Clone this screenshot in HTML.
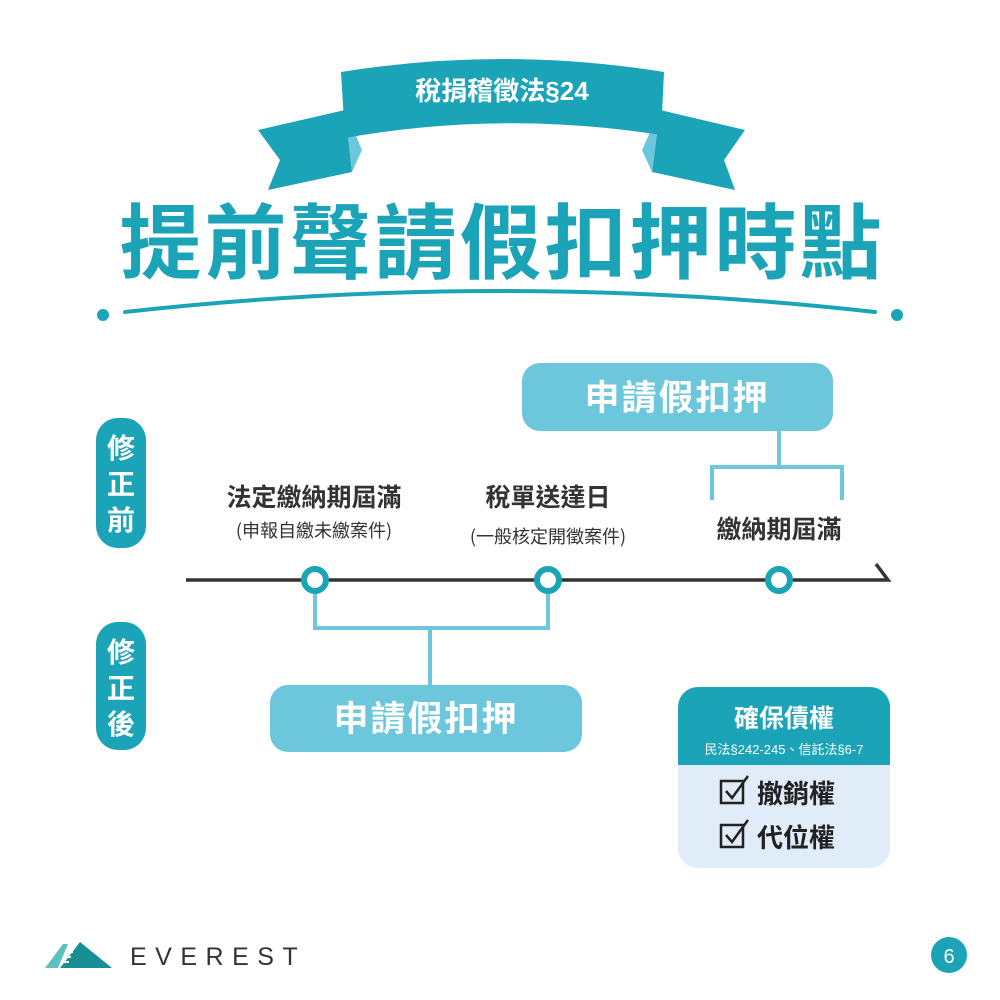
<!DOCTYPE html>
<html><head><meta charset="utf-8"><style>
body{margin:0;width:1000px;height:1000px;background:#fff;overflow:hidden;font-family:"Liberation Sans","Noto Sans CJK TC",sans-serif}
.a{position:absolute}
</style></head><body>
<div class="a" style="left:0;top:0;width:1000px;height:1000px">
<svg width="1000" height="1000" style="position:absolute;left:0;top:0">
<polygon points="345,110 258,130 280,160 268,190 352,172" fill="#1ba3b8"/>
<polygon points="660,110 745,130 724,160 735,190 652,172" fill="#1ba3b8"/>
<polygon points="345,110 352,172 362,150" fill="#6cc6dc"/>
<polygon points="660,110 652,172 642,150" fill="#6cc6dc"/>
<path d="M341,72 Q502,46 664,72 L661,135 Q502,110 345,138 Z" fill="#1ba3b8"/>
<text x="502" y="100" text-anchor="middle" font-size="26" font-weight="bold" fill="#fff" font-family="Liberation Sans,Noto Sans CJK TC,sans-serif">稅捐稽徵法§24</text>
<text x="502" y="272" text-anchor="middle" font-size="82" font-weight="bold" fill="#1ba3b8" font-family="Noto Sans CJK TC,sans-serif" letter-spacing="3">提前聲請假扣押時點</text>
<path d="M125,312 Q500,270 875,312" stroke="#1ba3b8" stroke-width="4" fill="none" stroke-linecap="round"/>
<circle cx="103" cy="315" r="6" fill="#1ba3b8"/><circle cx="897" cy="315" r="6" fill="#1ba3b8"/>
<rect x="96" y="418" width="50" height="130" rx="22" fill="#1ba3b8"/>
<rect x="96" y="622" width="50" height="128" rx="22" fill="#1ba3b8"/>
<g font-size="28" font-weight="bold" fill="#fff" text-anchor="middle" font-family="Noto Sans CJK TC,sans-serif">
<text x="121" y="458">修</text><text x="121" y="494">正</text><text x="121" y="530">前</text>
<text x="121" y="662">修</text><text x="121" y="698">正</text><text x="121" y="734">後</text>
</g>
<rect x="522" y="363" width="311" height="68" rx="18" fill="#6cc6dc"/>
<text x="677" y="410" text-anchor="middle" font-size="35" font-weight="bold" fill="#fff" font-family="Noto Sans CJK TC,sans-serif" letter-spacing="2">申請假扣押</text>
<path d="M779,431 V467 M712,500 V467 H842 V500" stroke="#6cc6dc" stroke-width="4" fill="none"/>
<g fill="#333" text-anchor="middle" font-family="Noto Sans CJK TC,sans-serif">
<text x="314" y="506" font-size="25" font-weight="bold">法定繳納期屆滿</text>
<text x="314" y="537" font-size="18">(申報自繳未繳案件)</text>
<text x="548" y="506" font-size="25" font-weight="bold">稅單送達日</text>
<text x="548" y="543" font-size="18">(一般核定開徵案件)</text>
<text x="779" y="538" font-size="25" font-weight="bold">繳納期屆滿</text>
</g>
<path d="M186,580 H888 L876,564" stroke="#333" stroke-width="3.5" fill="none"/>
<path d="M315,592 V628 H548 V592 M430,628 V685" stroke="#6cc6dc" stroke-width="4" fill="none"/>
<g fill="#fff" stroke="#1ba3b8" stroke-width="6">
<circle cx="315" cy="580" r="11"/><circle cx="548" cy="580" r="11"/><circle cx="779" cy="580" r="11"/>
</g>
<rect x="270" y="685" width="312" height="67" rx="18" fill="#6cc6dc"/>
<text x="426" y="731" text-anchor="middle" font-size="35" font-weight="bold" fill="#fff" font-family="Noto Sans CJK TC,sans-serif" letter-spacing="2">申請假扣押</text>
<rect x="678" y="687" width="212" height="181" rx="20" fill="#e0edf8"/>
<path d="M678,765 V707 A20,20 0 0 1 698,687 H870 A20,20 0 0 1 890,707 V765 Z" fill="#1ba3b8"/>
<text x="784" y="727" text-anchor="middle" font-size="25" font-weight="bold" fill="#fff" font-family="Noto Sans CJK TC,sans-serif">確保債權</text>
<text x="784" y="754" text-anchor="middle" font-size="13" fill="#fff" font-family="Liberation Sans,Noto Sans CJK TC,sans-serif">民法§242-245、信託法§6-7</text>
<g stroke="#222" stroke-width="2.5" fill="none">
<rect x="721" y="781" width="22" height="22"/><path d="M726,791 L732,798 L748,776"/>
<rect x="721" y="825" width="22" height="22"/><path d="M726,835 L732,842 L748,820"/>
</g>
<g font-size="26" font-weight="bold" fill="#222" font-family="Noto Sans CJK TC,sans-serif">
<text x="757" y="803">撤銷權</text><text x="757" y="847">代位權</text>
</g>
<polygon points="45,968 63,944 68,944 58,968" fill="#5fc0c0"/>
<polygon points="60,968 80,942 112,968" fill="#178f95"/>
<g stroke="#fff" stroke-width="2"><line x1="67" y1="952" x2="73" y2="952"/><line x1="65" y1="957" x2="71" y2="957"/><line x1="63" y1="962" x2="69" y2="962"/></g>
<text x="130" y="965" font-size="25" fill="#333" letter-spacing="8.5" font-family="Liberation Sans,sans-serif">EVEREST</text>
<circle cx="949" cy="955" r="18" fill="#1ba3b8"/>
<text x="949" y="963" text-anchor="middle" font-size="20" fill="#fff" font-family="Liberation Sans,sans-serif">6</text>
</svg>
</div>
</body></html>
